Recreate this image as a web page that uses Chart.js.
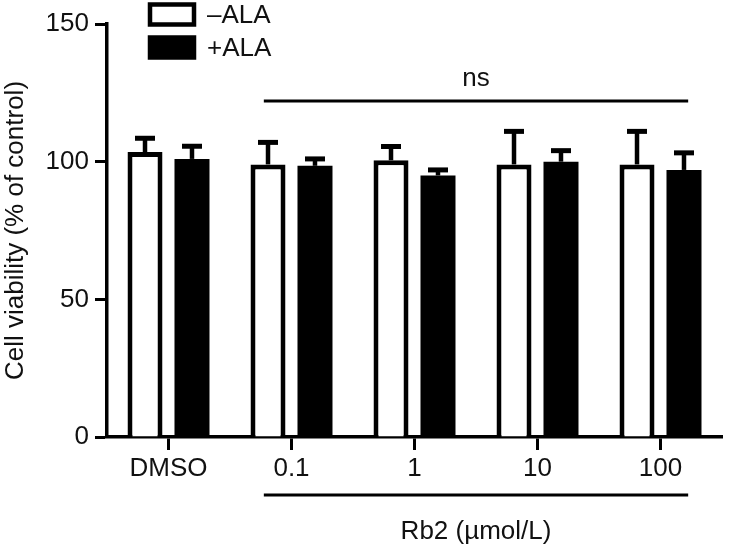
<!DOCTYPE html>
<html>
<head>
<meta charset="utf-8">
<script src="https://cdn.jsdelivr.net/npm/chart.js@4/dist/chart.umd.min.js"></script>
<style>
  html, body { margin: 0; padding: 0; background: #fff; }
  #wrap { width: 729px; height: 546px; }
</style>
</head>
<body>
<div id="wrap"><canvas id="viability"></canvas></div>
<script>
// values
const categories = ['DMSO', '0.1', '1', '10', '100'];
const minusALA = [103.5, 99, 100.5, 99, 99];
const minusALAErr = [5, 8, 5, 12, 12];
const plusALA = [101, 98.5, 95, 100, 97];
const plusALAErr = [4.6, 2.5, 2, 4, 6.2];
const yTicks = [0, 50, 100, 150];
const seriesLabels = ['\u2013ALA', '+ALA'];
const errors = [minusALAErr, plusALAErr];

Chart.defaults.font.family = '"Liberation Sans", Arial, sans-serif';
Chart.defaults.font.size = 26;
Chart.defaults.color = '#111';

// upward error bars with a cap
const errorBars = {
    id: 'errorBars',
    afterDatasetsDraw(chart) {
        const ctx = chart.ctx;
        const y = chart.scales.y;
        ctx.save();
        ctx.strokeStyle = '#000';
        chart.data.datasets.forEach((ds, i) => {
            const meta = chart.getDatasetMeta(i);
            meta.data.forEach((bar, j) => {
                const top = y.getPixelForValue(ds.data[j] + errors[i][j]);
                ctx.lineWidth = 4.5;
                ctx.beginPath();
                ctx.moveTo(bar.x, bar.y);
                ctx.lineTo(bar.x, top);
                ctx.stroke();
                ctx.lineWidth = 5;
                ctx.beginPath();
                ctx.moveTo(bar.x - 10, top);
                ctx.lineTo(bar.x + 10, top);
                ctx.stroke();
            });
        });
        ctx.restore();
    }
};

// "ns" bracket, Rb2 bracket and the legend drawn in the top left
const annotations = {
    id: 'annotations',
    afterDraw(chart) {
        const ctx = chart.ctx;
        const x = chart.scales.x;
        const y = chart.scales.y;
        const cw = x.getPixelForValue(1) - x.getPixelForValue(0);
        const x1 = x.getPixelForValue(1) - 0.225 * cw;
        const x2 = x.getPixelForValue(4) + 0.225 * cw;
        const bottom = chart.chartArea.bottom;
        ctx.save();
        ctx.strokeStyle = '#000';
        ctx.fillStyle = '#111';
        ctx.lineWidth = 3;

        let ly = y.getPixelForValue(122);
        ctx.beginPath();
        ctx.moveTo(x1, ly);
        ctx.lineTo(x2, ly);
        ctx.stroke();
        ctx.font = '26px "Liberation Sans", Arial, sans-serif';
        ctx.textAlign = 'center';
        ctx.textBaseline = 'middle';
        ctx.fillText('ns', (x1 + x2) / 2, y.getPixelForValue(130));

        ctx.beginPath();
        ctx.moveTo(x1, bottom + 58);
        ctx.lineTo(x2, bottom + 58);
        ctx.stroke();
        ctx.fillText('Rb2 (\u00b5mol/L)', (x1 + x2) / 2, bottom + 95);

        // legend
        const bx = 150, bw = 44, bh = 20;
        chart.data.datasets.forEach((ds, i) => {
            const by = 4.5 + i * 33;
            ctx.fillStyle = ds.backgroundColor;
            ctx.fillRect(bx, by, bw, bh);
            ctx.lineWidth = 4.5;
            ctx.strokeRect(bx, by, bw, bh);
            ctx.fillStyle = '#111';
            ctx.textAlign = 'left';
            ctx.fillText(ds.label, 207, by + bh / 2 + 1);
        });
        ctx.restore();
    }
};

new Chart(document.getElementById('viability'), {
    type: 'bar',
    data: {
        labels: categories,
        datasets: [
            {
                label: seriesLabels[0],
                data: minusALA,
                backgroundColor: '#ffffff',
                borderColor: '#000000',
                borderWidth: 5,
            },
            {
                label: seriesLabels[1],
                data: plusALA,
                backgroundColor: '#000000',
                borderColor: '#000000',
                borderWidth: 0,
            },
        ]
    },
    options: {
        responsive: true,
        maintainAspectRatio: false,
        animation: false,
        categoryPercentage: 0.764,
        barPercentage: 0.745,
        layout: {
            padding: { top: 24, right: 7, left: 0, bottom: 0 },
        },
        plugins: {
            legend: { display: false },
            tooltip: { enabled: false },
        },
        scales: {
            x: {
                afterFit: function (scale) { scale.height = 109; },
                grid: {
                    offset: false,
                    drawOnChartArea: false,
                    tickLength: 13,
                    tickWidth: 3,
                    tickColor: '#000',
                },
                border: { color: '#000', width: 3.5 },
                ticks: { padding: 3, color: '#111' },
            },
            y: {
                min: 0,
                max: 150,
                afterFit: function (scale) { scale.width = 107; },
                afterBuildTicks: function (scale) {
                    scale.ticks = yTicks.map(v => ({ value: v }));
                },
                grid: {
                    drawOnChartArea: false,
                    tickLength: 12,
                    tickWidth: 3,
                    tickColor: '#000',
                },
                border: { color: '#000', width: 3.5 },
                ticks: { padding: 6, color: '#111' },
                title: {
                    display: true,
                    text: 'Cell viability (% of control)',
                    padding: 0,
                    color: '#111',
                },
            },
        },
    },
    plugins: [errorBars, annotations],
});
</script>
</body>
</html>
